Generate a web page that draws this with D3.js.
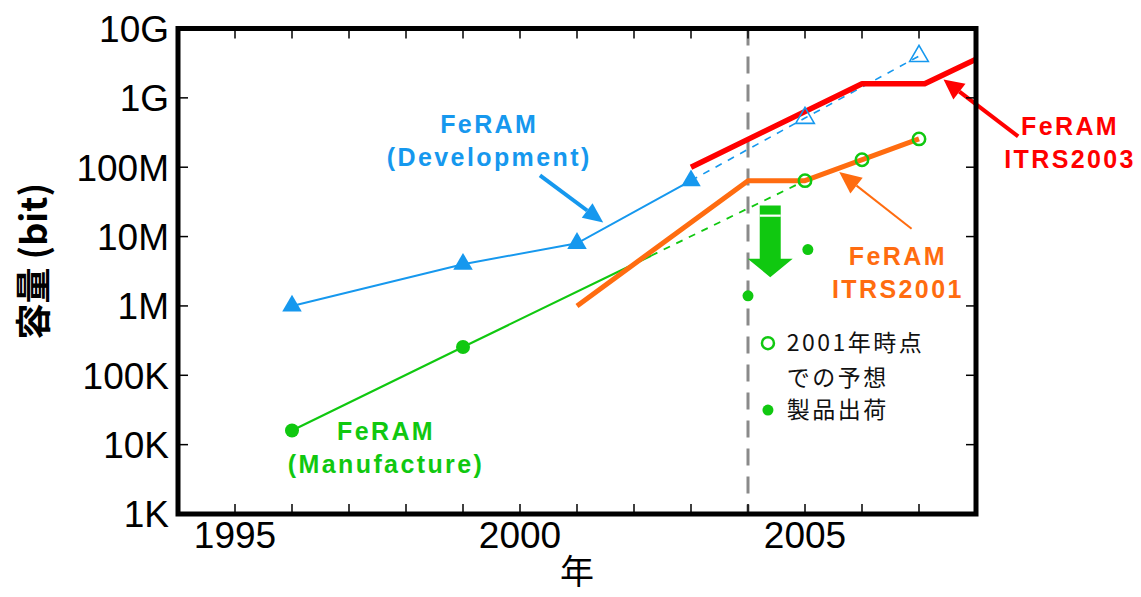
<!DOCTYPE html>
<html><head><meta charset="utf-8">
<script src="https://cdn.jsdelivr.net/npm/d3@7"></script>
<style>
html,body{margin:0;padding:0;background:#fff;}
svg{display:block;}
</style></head>
<body>
<svg id="chart" width="1141" height="597"></svg>
<script>
// ---------- data (years, bits) ----------
const devYears = [1996, 1999, 2001, 2003];
const devBits = [1e6, 4e6, 8e6, 64e6];
const devProjYears = [2003, 2005, 2007];
const devProjBits = [64e6, 512e6, 4e9];
const mfgYears = [1996, 1999, 2002.3];
const mfgBits = [16e3, 256e3, 5.3e6];
const mfgMarkerCount = 2;
const mfgProjYears = [2002.3, 2005, 2006, 2007];
const mfgProjBits = [5.3e6, 64e6, 128e6, 256e6];
const itrs2001Years = [2001, 2004, 2005, 2007];
const itrs2001Bits = [1e6, 64e6, 64e6, 256e6];
const itrs2003Years = [2003, 2006, 2007.1, 2008];
const itrs2003Bits = [100e6, 1.6e9, 1.6e9, 3.6e9];
const shippedYears = [2004, 2005.05];
const shippedBits = [1.4e6, 6.5e6];
const cutoffYear = 2004;

const yTickValues = [1e3, 1e4, 1e5, 1e6, 1e7, 1e8, 1e9, 1e10];
const yTickLabels = ["1K", "10K", "100K", "1M", "10M", "100M", "1G", "10G"];
const xLabelYears = [1995, 2000, 2005];
const xMinorYears = [1995, 1996, 1997, 1998, 1999, 2000, 2001, 2002, 2003, 2004, 2005, 2006, 2007];

const yTitle = "容量 (bit)";
const xTitle = "年";
const legendLabels = ["2001年時点", "での予想", "製品出荷"];

// annotation anchors in data units [year, bits]
const devLabel = {lines: ["FeRAM", "(Development)"], at: [1999.46, 3.08e8]};
const mfgLabel = {lines: ["FeRAM", "(Manufacture)"], at: [1997.65, 1.16e4]};
const i01Label = {lines: ["FeRAM", "ITRS2001"], at: [2006.63, 3.86e6]};
const i03Label = {lines: ["FeRAM", "ITRS2003"], at: [2009.65, 2.88e8]};
const devArrow = {from: [2000.35, 76e6], to: [2001.46, 16e6]};
const i01Arrow = {from: [2006.87, 13e6], to: [2005.6, 85e6]};
const i03Arrow = {from: [2008.74, 2.78e8], to: [2007.43, 1.84e9]};
const bigArrow = {year: 2004.39, top: 28e6, headBase: 4.8e6, tip: 2.6e6};
const legendAt = {year: 2004.35, textYear: 2004.68, row1: 2.9e5, row2: 9.1e4, row3: 3.15e4};

// ---------- colors ----------
const BLUE = "#1698ee", GREEN = "#10c810", ORANGE = "#ff6c10", RED = "#ff0000";

// ---------- scales ----------
const x = d3.scaleLinear().domain([1994, 2008]).range([178, 976]);
const y = d3.scaleLog().domain([1e3, 1e10]).range([514, 28.5]);

const svg = d3.select("#chart");
const zip = (xs, ys) => xs.map((v, i) => [v, ys[i]]);
const line = d3.line().x(d => x(d[0])).y(d => y(d[1]));

// clip to plot area
svg.append("defs").append("clipPath").attr("id", "plot")
  .append("rect").attr("x", x(1994)).attr("y", y(1e10)).attr("width", x(2008) - x(1994)).attr("height", y(1e3) - y(1e10));

const plot = svg.append("g").attr("clip-path", "url(#plot)");

// vertical dashed 2004 line
plot.append("line")
  .attr("x1", x(cutoffYear)).attr("x2", x(cutoffYear))
  .attr("y1", y(1e10)).attr("y2", y(1e3))
  .attr("stroke", "#8a8a8a").attr("stroke-width", 3).attr("stroke-dasharray", "17,11");

// projection dashed lines
plot.append("path").datum(zip(devProjYears, devProjBits)).attr("d", line)
  .attr("fill", "none").attr("stroke", BLUE).attr("stroke-width", 1.6).attr("stroke-dasharray", "7,7");
plot.append("path").datum(zip(mfgProjYears, mfgProjBits)).attr("d", line)
  .attr("fill", "none").attr("stroke", GREEN).attr("stroke-width", 1.8).attr("stroke-dasharray", "7,7");

// solid series
plot.append("path").datum(zip(devYears, devBits)).attr("d", line)
  .attr("fill", "none").attr("stroke", BLUE).attr("stroke-width", 2);
plot.append("path").datum(zip(mfgYears, mfgBits)).attr("d", line)
  .attr("fill", "none").attr("stroke", GREEN).attr("stroke-width", 2.2);
plot.append("path").datum(zip(itrs2001Years, itrs2001Bits)).attr("d", line)
  .attr("fill", "none").attr("stroke", ORANGE).attr("stroke-width", 5).attr("stroke-linejoin", "round");
plot.append("path").datum(zip(itrs2003Years, itrs2003Bits)).attr("d", line)
  .attr("fill", "none").attr("stroke", RED).attr("stroke-width", 5.5).attr("stroke-linejoin", "round");

// markers
const tri = d3.symbol().type(d3.symbolTriangle).size(165);
plot.selectAll(".devpt").data(zip(devYears, devBits)).enter().append("path")
  .attr("d", tri).attr("transform", d => `translate(${x(d[0])},${y(d[1])})`).attr("fill", BLUE);
plot.selectAll(".devproj").data(zip(devProjYears, devProjBits).slice(1)).enter().append("path")
  .attr("d", d3.symbol().type(d3.symbolTriangle).size(150)).attr("transform", d => `translate(${x(d[0])},${y(d[1])})`)
  .attr("fill", "none").attr("stroke", BLUE).attr("stroke-width", 1.6);
plot.selectAll(".mfgpt").data(zip(mfgYears, mfgBits).slice(0, mfgMarkerCount)).enter().append("circle")
  .attr("cx", d => x(d[0])).attr("cy", d => y(d[1])).attr("r", 7).attr("fill", GREEN);
plot.selectAll(".mfgproj").data(zip(mfgProjYears, mfgProjBits).slice(1)).enter().append("circle")
  .attr("cx", d => x(d[0])).attr("cy", d => y(d[1])).attr("r", 6.2).attr("fill", "none")
  .attr("stroke", GREEN).attr("stroke-width", 2.5);
plot.selectAll(".ship").data(zip(shippedYears, shippedBits)).enter().append("circle")
  .attr("cx", d => x(d[0])).attr("cy", d => y(d[1])).attr("r", 5.5).attr("fill", GREEN);

// big green arrow
{
  const cx = x(bigArrow.year), t = y(bigArrow.top), hb = y(bigArrow.headBase), tp = y(bigArrow.tip);
  const sw = 10.5, hw = 22.5;
  svg.append("path")
    .attr("d", `M${cx - sw},${t}L${cx + sw},${t}L${cx + sw},${hb}L${cx + hw},${hb}L${cx},${tp}L${cx - hw},${hb}L${cx - sw},${hb}Z`)
    .attr("fill", GREEN);
  svg.append("rect").attr("x", cx - sw).attr("y", t + 9).attr("width", sw * 2).attr("height", 2.2).attr("fill", "#fff");
}

// annotation arrows
function arrow(a, color, w, hl, hw) {
  const x1 = x(a.from[0]), y1 = y(a.from[1]), x2 = x(a.to[0]), y2 = y(a.to[1]);
  const dx = x2 - x1, dy = y2 - y1, L = Math.hypot(dx, dy), ux = dx / L, uy = dy / L;
  const bx = x2 - ux * hl, by = y2 - uy * hl;
  svg.append("line").attr("x1", x1).attr("y1", y1).attr("x2", bx).attr("y2", by)
    .attr("stroke", color).attr("stroke-width", w);
  svg.append("path")
    .attr("d", `M${x2},${y2}L${bx - uy * hw},${by + ux * hw}L${bx + uy * hw},${by - ux * hw}Z`)
    .attr("fill", color);
}
arrow(devArrow, BLUE, 4, 20, 9);
arrow(i01Arrow, ORANGE, 2, 22, 10);
arrow(i03Arrow, RED, 4, 20, 10);

// annotation labels
function label(l, color) {
  const t = svg.append("text")
    .attr("x", x(l.at[0])).attr("y", y(l.at[1]))
    .attr("text-anchor", "middle").attr("fill", color)
    .style("font-family", "'Liberation Sans', Arial, sans-serif").style("font-weight", "bold")
    .style("font-size", "25px").style("letter-spacing", "2.4px");
  l.lines.forEach((s, i) => t.append("tspan").attr("x", x(l.at[0])).attr("dy", i === 0 ? 0 : 33).text(s));
}
label(devLabel, BLUE);
label(mfgLabel, GREEN);
label(i01Label, ORANGE);
label(i03Label, RED);

// legend
svg.append("circle").attr("cx", x(legendAt.year)).attr("cy", y(legendAt.row1)).attr("r", 6)
  .attr("fill", "#fff").attr("stroke", GREEN).attr("stroke-width", 2.5);
svg.append("circle").attr("cx", x(legendAt.year)).attr("cy", y(legendAt.row3)).attr("r", 5.5).attr("fill", GREEN);
[legendAt.row1, legendAt.row2, legendAt.row3].forEach((v, i) => {
  svg.append("text").attr("x", x(legendAt.textYear)).attr("y", y(v)).attr("dy", "0.36em")
    .attr("fill", "#111")
    .style("font-family", "'Noto Sans CJK JP', sans-serif").style("font-size", "23px")
    .style("letter-spacing", "2.5px")
    .text(legendLabels[i]);
});

// frame
svg.append("rect").attr("x", x(1994)).attr("y", y(1e10))
  .attr("width", x(2008) - x(1994)).attr("height", y(1e3) - y(1e10))
  .attr("fill", "none").attr("stroke", "#000").attr("stroke-width", 5);

// ticks
const tickLen = 10;
yTickValues.slice(1, -1).forEach(v => {
  svg.append("line").attr("x1", x(1994)).attr("x2", x(1994) + tickLen).attr("y1", y(v)).attr("y2", y(v))
    .attr("stroke", "#000").attr("stroke-width", 1.5);
  svg.append("line").attr("x1", x(2008)).attr("x2", x(2008) - tickLen).attr("y1", y(v)).attr("y2", y(v))
    .attr("stroke", "#000").attr("stroke-width", 1.5);
});
xMinorYears.forEach(yr => {
  svg.append("line").attr("x1", x(yr)).attr("x2", x(yr)).attr("y1", y(1e3)).attr("y2", y(1e3) - tickLen)
    .attr("stroke", "#000").attr("stroke-width", 1.5);
  svg.append("line").attr("x1", x(yr)).attr("x2", x(yr)).attr("y1", y(1e10)).attr("y2", y(1e10) + tickLen)
    .attr("stroke", "#000").attr("stroke-width", 1.5);
});

// tick labels
const tickFont = "'Liberation Sans', Arial, sans-serif";
yTickValues.forEach((v, i) => {
  svg.append("text").attr("x", 169).attr("y", y(v)).attr("dy", "0.36em").attr("text-anchor", "end")
    .style("font-family", tickFont).style("font-size", "37px").attr("fill", "#000")
    .text(yTickLabels[i]);
});
xLabelYears.forEach(yr => {
  svg.append("text").attr("x", x(yr)).attr("y", 548).attr("text-anchor", "middle")
    .style("font-family", tickFont).style("font-size", "37px").attr("fill", "#000")
    .text(yr);
});

// axis titles
svg.append("text").attr("transform", `translate(34,${(y(1e3) + y(1e10)) / 2 - 10}) rotate(-90)`)
  .attr("text-anchor", "middle").attr("dy", "0.35em")
  .style("font-family", "'Noto Sans CJK JP', sans-serif").style("font-weight", "bold").style("font-size", "36px")
  .text(yTitle);
svg.append("text").attr("x", (x(1994) + x(2008)) / 2).attr("y", 584).attr("text-anchor", "middle")
  .style("font-family", "'Noto Sans CJK JP', sans-serif").style("font-size", "34px")
  .text(xTitle);
</script>
</body></html>
